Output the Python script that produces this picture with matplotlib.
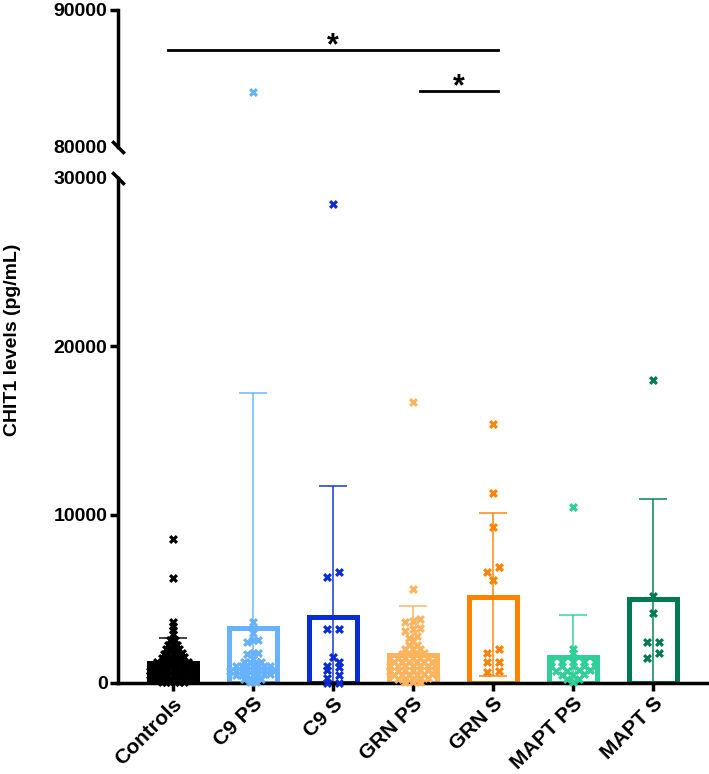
import numpy as np
import matplotlib
matplotlib.use("Agg")
import matplotlib.pyplot as plt

plt.rcParams.update({
    "font.family": "Liberation Sans",
    "font.weight": "bold",
    "font.size": 14,
})

groups = ["Controls", "C9 PS", "C9 S", "GRN PS", "GRN S", "MAPT PS", "MAPT S"]
colors = ["#000000", "#66B2FF", "#0A2DD2", "#FFB35C", "#FF8200", "#2ECF98", "#007A52"]

# bar heights (mean) and error bar ends
means = [1170, 3260, 3940, 1680, 5130, 1560, 4980]
err_hi = [2650, 17230, 11720, 4590, 10120, 4040, 10930]
err_lo = [0, 0, 0, 0, 430, 0, 0]

controls = [40, 60, 30, 70, 50, 55,
            240, 260, 250, 230, 270, 245, 255, 235, 265, 250,
            490, 510, 500, 480, 520, 495, 505, 485, 515, 500, 498,
            740, 760, 750, 730, 770, 745, 755, 735, 765, 750, 748,
            990, 1010, 1000, 980, 1020, 995, 1005, 985, 1015, 1000,
            1240, 1260, 1250, 1230, 1270, 1245, 1255, 1235,
            1490, 1510, 1500, 1480, 1520, 1505,
            1740, 1760, 1750, 1730, 1770,
            1990, 2010, 2000, 2020,
            2240, 2260, 2250,
            2540, 2560,
            2900, 3150, 3390, 3640, 6220, 8560]
c9_ps = [40, 60,
         240, 260, 250, 230,
         490, 510, 500, 480, 520, 495, 505,
         740, 760, 750, 730, 770, 745, 755, 735, 765,
         990, 1010, 1000, 980, 1020, 995, 1005,
         1240, 1260, 1250, 1230,
         1410, 1750, 1760, 1770,
         2420, 2550, 2560, 2950, 3640, 84000]
c9_s = [20, 20, 280, 475, 770, 970, 1030, 1230, 1530, 3190, 3190, 6320, 6570, 28460]
grn_ps = [40, 60, 50,
          240, 260, 250, 230, 270,
          490, 510, 500, 480, 520, 495,
          740, 760, 750, 730, 770, 745, 755,
          990, 1010, 1000, 980, 1020, 995, 1005,
          1240, 1260, 1250, 1230, 1270, 1245,
          1490, 1510, 1500, 1480, 1520,
          1740, 1760, 1750, 1730,
          1990, 2010, 2000,
          2240, 2260,
          2500, 2700, 2800, 3100, 3200, 3250, 3650, 3700, 3800, 5590, 16700]
grn_s = [640, 710, 1230, 1270, 1800, 2000, 6120, 6590, 6880, 9290, 11300, 15400]
mapt_ps = [60,
           240, 260,
           490, 510, 500,
           740, 760, 750, 730,
           990, 1010, 1000, 980, 1020,
           1240, 1260, 1250, 1230, 1270,
           1760, 2000, 10470]
mapt_s = [1500, 1800, 2450, 2450, 4180, 5190, 18000]
values = [controls, c9_ps, c9_s, grn_ps, grn_s, mapt_ps, mapt_s]
row_height = [150, 150, 250, 150, 320, 150, 320]

# significance bars (top panel)
sig_x0 = [-0.06, 3.09]
sig_x1 = [4.07, 4.07]
sig_y = [87080, 84050]
sig_star_y = [86800, 83750]


def swarm(vals, row_h, step=0.15, max_w=0.56):
    """Group close values into rows and spread each row around the centre."""
    vals = np.asarray(vals, float)
    order = np.argsort(vals, kind="stable")
    rows, cur, start = [], [], None
    for i in order:
        if cur and vals[i] - start > row_h:
            rows.append(cur)
            cur = []
        if not cur:
            start = vals[i]
        cur.append(i)
    rows.append(cur)
    widest = max(len(r) for r in rows)
    dx = step if widest < 2 else min(step, max_w / (widest - 1))
    off = np.zeros(len(vals))
    for r in rows:
        for j, i in enumerate(r):
            off[i] = (j - (len(r) - 1) / 2) * dx
    return off


fig = plt.figure(figsize=(7.09, 7.74), dpi=100)
left, width = 0.1664, 0.8336
ax_top = fig.add_axes([left, 0.8101, width, 0.1770])
ax = fig.add_axes([left, 0.1176, width, 0.6525])

SPINE = 2.5
for a in (ax, ax_top):
    a.set_xlim(-0.684, 6.70)
    a.spines["top"].set_visible(False)
    a.spines["right"].set_visible(False)
    for s in a.spines.values():
        s.set_linewidth(SPINE)
    a.tick_params(axis="y", length=6, width=SPINE, pad=1.5, labelsize=14)
ax_top.spines["bottom"].set_visible(False)
ax_top.set_xticks([])
ax.tick_params(axis="x", length=6, width=SPINE, pad=2, labelsize=15)

for i, (vals, c) in enumerate(zip(values, colors)):
    ax.bar(i, means[i], width=0.6, facecolor="white", edgecolor=c, linewidth=3.6, zorder=1)
    ax.errorbar(i, means[i], yerr=[[means[i] - err_lo[i]], [err_hi[i] - means[i]]],
                fmt="none", ecolor=c, elinewidth=1.3, capsize=10, capthick=1.3,
                alpha=0.8, zorder=2)
    v = np.asarray(vals, float)
    x = i + swarm(v, row_height[i])
    low = v < 30000
    ax.scatter(x[low], v[low], marker="X", s=42, color=c, linewidths=0, zorder=3, clip_on=False)
    high = v >= 80000
    if high.any():
        ax_top.scatter(x[high], v[high], marker="X", s=42, color=c, linewidths=0, zorder=3)

ax.set_ylim(0, 30000)
ax.set_yticks([0, 10000, 20000, 30000])
ax.set_yticklabels(["0", "10000", "20000", "30000"])
ax.yaxis.get_major_ticks()[-1].tick1line.set_visible(False)
ax.set_xticks(range(len(groups)))
ax.set_xticklabels(groups, rotation=45, ha="right", va="top", rotation_mode="anchor")

ax_top.set_ylim(80000, 90000)
ax_top.set_yticks([80000, 90000])
ax_top.set_yticklabels(["80000", "90000"])
ax_top.yaxis.get_major_ticks()[0].tick1line.set_visible(False)

# break marks on the y axis
brk = dict(marker=[(-1, 1), (1, -1)], markersize=9, mew=SPINE, color="black",
           linestyle="none", clip_on=False)
ax_top.plot([0], [0], transform=ax_top.transAxes, **brk)
ax.plot([0], [1], transform=ax.transAxes, **brk)

for x0, x1, y, ys in zip(sig_x0, sig_x1, sig_y, sig_star_y):
    ax_top.plot([x0, x1], [y, y], color="black", lw=2, clip_on=False)
    ax_top.text((x0 + x1) / 2, ys, "*", ha="center", va="baseline", fontsize=22)

fig.text(13 / 709, 1 - 340 / 774, "CHIT1 levels (pg/mL)", rotation=90,
         ha="center", va="center", fontsize=14)

fig.savefig("out.png", dpi=100)
